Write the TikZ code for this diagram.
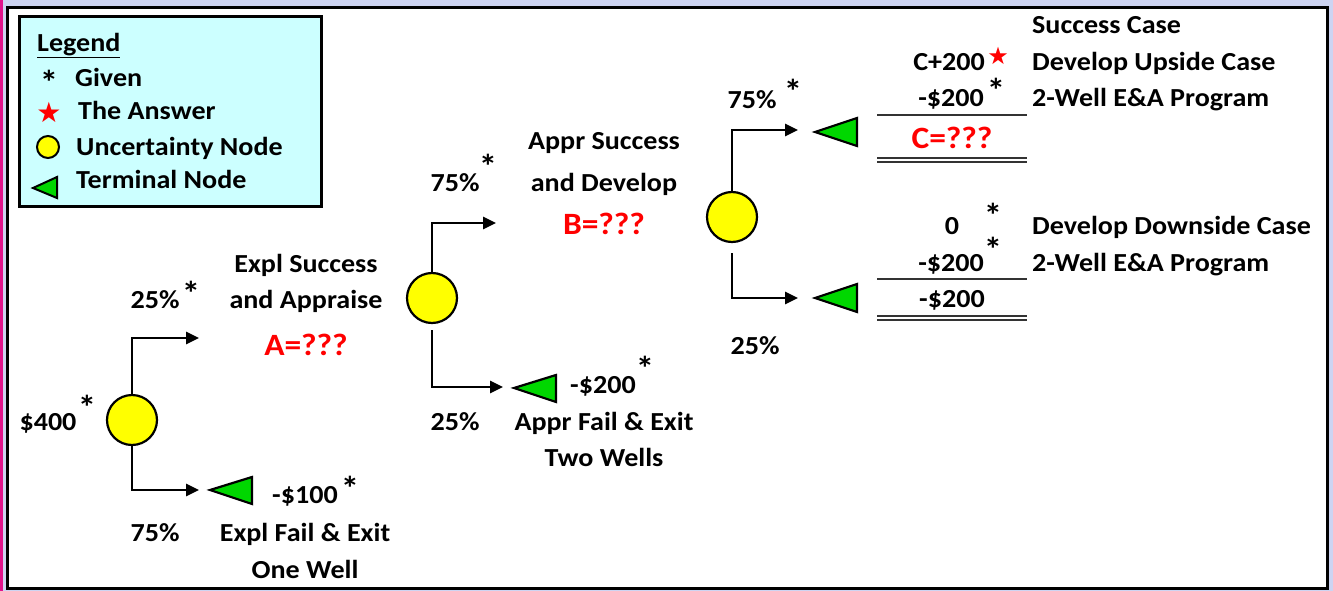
\documentclass[tikz,border=0pt]{standalone}
\usepackage{fontspec}
\setmainfont{Carlito}[FakeStretch=1.08]
\newfontfamily\symfont{DejaVu Sans}
\usetikzlibrary{arrows.meta}
\definecolor{lav}{RGB}{205,212,242}
\definecolor{mag}{RGB}{225,20,140}
\definecolor{legfill}{RGB}{204,255,255}
\definecolor{ucol}{RGB}{255,255,0}
\definecolor{tcol}{RGB}{0,215,0}
\begin{document}
\begin{tikzpicture}[x=1pt,y=-1pt,
  txt/.style={font=\fontsize{26}{30}\selectfont\bfseries, inner sep=0pt, text height=17pt, text depth=0pt},
  red/.style={font=\fontsize{31}{34}\selectfont\bfseries, inner sep=0pt, text height=20pt, text depth=0pt, text=red},
  ast/.style={font=\fontsize{34}{36}\selectfont\bfseries, inner sep=0pt},
  unc/.style={circle, draw=black, fill=ucol, line width=2.2pt, minimum size=50pt, inner sep=0pt},
  branch/.style={line width=2.6pt, -{Triangle[length=13pt,width=12pt]}},
  term/.style={draw=black, fill=tcol, line width=2.2pt, line join=miter},
  rule/.style={line width=1.6pt, draw=black!80}
]
\useasboundingbox (0,0) rectangle (1333,591);
\fill[lav] (0,0) rectangle (1333,591);
\fill[mag] (0,0) rectangle (3,591);
\draw[line width=3pt, fill=white] (7.5,7.5) rectangle (1327.5,588.5);

% legend
\draw[line width=3pt, fill=legfill] (19.5,16.5) rectangle (321,206);
\node[txt, anchor=west] (lg) at (37,43) {\underline{Legend}};
\node[ast] (lga) at (49,82) {*};
\node[txt, anchor=west] (lgg) at (75,78) {Given};
\node[inner sep=0pt, text=red, font=\symfont\fontsize{28}{30}\selectfont] (lgs) at (49,112) {★};
\node[txt, anchor=west] (lgt) at (78,111) {The Answer};
\node[circle, draw=black, fill=ucol, line width=2pt, minimum size=22pt, inner sep=0pt] (lgc) at (48,147) {};
\node[txt, anchor=west] (lgu) at (76,147) {Uncertainty Node};
\draw[term, line width=2pt] (33,188) -- (57,177) -- (57,198) -- cycle;
\node[txt, anchor=west] (lgn) at (76,180) {Terminal Node};

% uncertainty nodes
\node[unc] (u1) at (132,420) {};
\node[unc] (u2) at (432,298) {};
\node[unc] (u3) at (732,217) {};

% arrow ends
\coordinate (e1) at (199,338);
\coordinate (e2) at (199,490);
\coordinate (e3) at (496,223);
\coordinate (e4) at (503,387);
\coordinate (e5) at (798,130);
\coordinate (e6) at (798,298);

\draw[branch] (u1.north) |- (e1);
\draw[branch] (u1.south) |- (e2);
\draw[branch] (u2.north) |- (e3);
\draw[branch, shorten <=6pt] (u2.south) |- (e4);
\draw[branch] (u3.north) |- (e5);
\draw[branch, shorten <=10pt] (u3.south) |- (e6);

% terminal nodes
\draw[term] (210,490) -- (252,477) -- (252,504) -- cycle;
\draw[term] (514,388) -- (556,375) -- (556,402) -- cycle;
\draw[term] (815,132) -- (857,118) -- (857,146) -- cycle;
\draw[term] (815,298) -- (857,284) -- (857,312) -- cycle;

% first stage labels
\node[txt] (p1) at (155,300) {25\%};
\node[ast] (p1a) at (191,293) {*};
\node[txt] (v0) at (48,422) {\$400};
\node[ast] (v0a) at (87,407) {*};
\node[txt] (p2) at (155,533) {75\%};
\node[txt] (s1a) at (306,264) {Expl Success};
\node[txt] (s1b) at (306,300) {and Appraise};
\node[red] (s1c) at (306,345) {A=???};
\node[txt] (f1v) at (305,495) {-\$100};
\node[ast] (f1a) at (350,488) {*};
\node[txt] (f1b) at (305,533) {Expl Fail \& Exit};
\node[txt] (f1c) at (305,570) {One Well};

% second stage labels
\node[txt] (p3) at (455,183) {75\%};
\node[ast] (p3a) at (488,166) {*};
\node[txt] (p4) at (455,422) {25\%};
\node[txt] (s2a) at (604,141) {Appr Success};
\node[txt] (s2b) at (604,183) {and Develop};
\node[red] (s2c) at (604,224) {B=???};
\node[txt] (f2v) at (603,385) {-\$200};
\node[ast] (f2a) at (645,368) {*};
\node[txt] (f2b) at (604,422) {Appr Fail \& Exit};
\node[txt] (f2c) at (604,458) {Two Wells};

% third stage labels
\node[txt] (p5) at (752,100) {75\%};
\node[ast] (p5a) at (793,91) {*};
\node[txt] (p6) at (755,346) {25\%};

% upside table
\node[txt, anchor=west] (sc) at (1032,25) {Success Case};
\node[txt, anchor=east] (c200) at (985,62) {C+200};
\node[inner sep=0pt, text=red, font=\symfont\fontsize{24}{26}\selectfont] (c200s) at (998,56) {★};
\node[txt, anchor=west] (du) at (1032,62) {Develop Upside Case};
\node[txt, anchor=east] (m200a) at (984,98) {-\$200};
\node[ast] (m200aa) at (996,90) {*};
\node[txt, anchor=west] (wa) at (1032,98) {2-Well E\&A Program};
\coordinate (r1l) at (877,115);
\coordinate (r1r) at (1027,115);
\draw[rule] (r1l) -- (r1r);
\node[red] (cq) at (952,139) {C=???};
\coordinate (r2l) at (877,158);
\coordinate (r2r) at (1027,158);
\coordinate (r3l) at (877,162);
\coordinate (r3r) at (1027,162);
\draw[rule] (r2l) -- (r2r);
\draw[rule] (r3l) -- (r3r);

% downside table
\node[txt] (z0) at (952,226) {0};
\node[ast] (z0a) at (993,215) {*};
\node[txt, anchor=west] (dd) at (1032,226) {Develop Downside Case};
\node[txt, anchor=east] (m200b) at (984,263) {-\$200};
\node[ast] (m200ba) at (993,249) {*};
\node[txt, anchor=west] (wb) at (1032,263) {2-Well E\&A Program};
\coordinate (r4l) at (877,279);
\coordinate (r4r) at (1027,279);
\draw[rule] (r4l) -- (r4r);
\node[txt] (mt) at (952,299) {-\$200};
\coordinate (r5l) at (877,316);
\coordinate (r5r) at (1027,316);
\coordinate (r6l) at (877,320);
\coordinate (r6r) at (1027,320);
\draw[rule] (r5l) -- (r5r);
\draw[rule] (r6l) -- (r6r);
\end{tikzpicture}
\end{document}
